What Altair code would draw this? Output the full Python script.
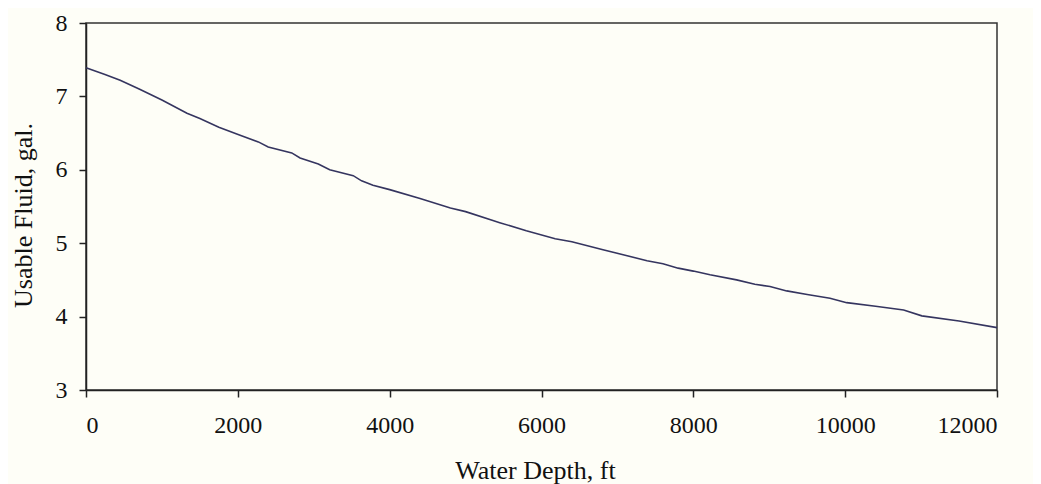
import altair as alt
import pandas as pd

depth_ft = [0, 250, 450, 700, 1000, 1330, 1500, 1750, 2030, 2270, 2400, 2710, 2820,
            3060, 3210, 3520, 3630, 3780, 4000, 4400, 4800, 5000, 5360, 5450, 5800,
            6180, 6400, 6810, 7010, 7390, 7600, 7800, 8000, 8220, 8570, 8810, 9010,
            9230, 9500, 9800, 10020, 10400, 10770, 11010, 11500, 12000]
usable_gal = [7.39, 7.30, 7.22, 7.10, 6.95, 6.77, 6.70, 6.58, 6.47, 6.38, 6.31, 6.23, 6.16,
              6.08, 6.00, 5.92, 5.85, 5.79, 5.73, 5.61, 5.48, 5.43, 5.31, 5.28, 5.17,
              5.06, 5.02, 4.91, 4.86, 4.76, 4.72, 4.66, 4.62, 4.57, 4.50, 4.44, 4.41,
              4.35, 4.30, 4.25, 4.19, 4.14, 4.09, 4.01, 3.94, 3.85]
x_ticks = [0, 2000, 4000, 6000, 8000, 10000, 12000]
y_ticks = [3, 4, 5, 6, 7, 8]

df = pd.DataFrame({"depth": depth_ft, "fluid": usable_gal})
FONT = "Liberation Serif"

chart = alt.Chart(df).mark_line(color="#35355f", strokeWidth=1.6).encode(
    x=alt.X("depth:Q", scale=alt.Scale(domain=[0, 12000], nice=False),
            axis=alt.Axis(title="Water Depth, ft", values=x_ticks, format="d", grid=False,
                          tickSize=7, labelPadding=16, titlePadding=20, titleX=449)),
    y=alt.Y("fluid:Q", scale=alt.Scale(domain=[3, 8], nice=False, zero=False),
            axis=alt.Axis(title="Usable Fluid, gal.", values=y_ticks, format="d", grid=False,
                          tickSize=7, labelPadding=12, titlePadding=19, titleY=192)),
).properties(
    width=911, height=367,
    autosize=alt.AutoSizeParams(type="none"),
    padding={"left": 78, "top": 15, "right": 36, "bottom": 100},
    background="#fefef7",
).configure_view(
    stroke="#333333", strokeWidth=1.5, fill="#fefef7"
).configure_axis(
    labelFont=FONT, titleFont=FONT, labelFontSize=24, titleFontSize=26,
    labelColor="#111111", titleColor="#111111", titleFontWeight="normal",
    domainColor="#222222", tickColor="#222222", domainWidth=1.5, tickWidth=1.5,
)

chart.save("out.html", embed_options={"renderer": "svg", "actions": False})
